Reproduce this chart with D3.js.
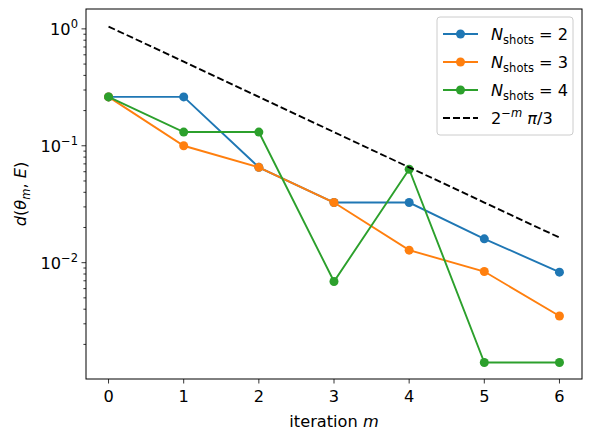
<!DOCTYPE html>
<meta charset="utf-8">
<script src="https://d3js.org/d3.v7.min.js"></script>
<style>
  body { margin: 0; background: #fff; }
  text { font-family: "DejaVu Sans", sans-serif; fill: #000; }
</style>
<svg id="chart" width="591" height="440"></svg>
<script>
// data
var iterations = [0, 1, 2, 3, 4, 5, 6];
var shots2 = [0.262, 0.262, 0.0654, 0.0327, 0.0327, 0.0160, 0.0083];
var shots3 = [0.262, 0.100, 0.0654, 0.0327, 0.0128, 0.0084, 0.0035];
var shots4 = [0.262, 0.131, 0.131, 0.0069, 0.0630, 0.0014, 0.0014];
var bound = [1.047, 0.524, 0.262, 0.131, 0.0654, 0.0327, 0.0164];
var yTickLabels = ["0", "\u22121", "\u22122"];

var svg = d3.select("#chart");
var mLeft = 86, mRight = 582, mTop = 9, mBottom = 379;
var fs = "16.2px", fsSmall = "11.5px";

var x = d3.scaleLinear().domain([-0.3, 6.3]).range([mLeft, mRight]);
var y = d3.scaleLog().domain([Math.pow(10, -2.995), Math.pow(10, 0.17)]).range([mBottom, mTop]);

// minor ticks
var minor = [];
[-3, -2, -1, 0].forEach(function(e) {
  for (var k = 2; k <= 9; k++) {
    var v = k * Math.pow(10, e);
    if (v > y.domain()[0] && v < y.domain()[1]) minor.push(v);
  }
});
svg.append("g").selectAll("line").data(minor).enter().append("line")
  .attr("x1", mLeft - 2.6).attr("x2", mLeft)
  .attr("y1", function(d) { return y(d); }).attr("y2", function(d) { return y(d); })
  .attr("stroke", "#000").attr("stroke-width", 0.8);

// major y ticks
var majors = [1, 0.1, 0.01];
var gy = svg.append("g");
majors.forEach(function(v, i) {
  gy.append("line").attr("x1", mLeft - 4.5).attr("x2", mLeft)
    .attr("y1", y(v)).attr("y2", y(v)).attr("stroke", "#000").attr("stroke-width", 0.8);
  var t = gy.append("text").attr("x", mLeft - 8).attr("y", y(v) + 6)
    .attr("text-anchor", "end").style("font-size", fs);
  t.append("tspan").text("10");
  t.append("tspan").attr("dy", -7).style("font-size", fsSmall).text(yTickLabels[i]);
});

// x ticks
var gx = svg.append("g");
iterations.forEach(function(v) {
  gx.append("line").attr("x1", x(v)).attr("x2", x(v))
    .attr("y1", mBottom).attr("y2", mBottom + 4.5).attr("stroke", "#000").attr("stroke-width", 0.8);
  gx.append("text").attr("x", x(v)).attr("y", mBottom + 23)
    .attr("text-anchor", "middle").style("font-size", fs).text(v);
});

// series
var series = [
  { vals: shots2, color: "#1f77b4" },
  { vals: shots3, color: "#ff7f0e" },
  { vals: shots4, color: "#2ca02c" }
];
var line = d3.line().x(function(d, i) { return x(iterations[i]); }).y(function(d) { return y(d); });

series.forEach(function(s) {
  var g = svg.append("g");
  g.append("path").attr("d", line(s.vals)).attr("fill", "none")
    .attr("stroke", s.color).attr("stroke-width", 1.9);
  g.selectAll("circle").data(s.vals).enter().append("circle")
    .attr("cx", function(d, i) { return x(iterations[i]); })
    .attr("cy", function(d) { return y(d); })
    .attr("r", 4.5).attr("fill", s.color);
});

svg.append("path").attr("d", line(bound)).attr("fill", "none")
  .attr("stroke", "#000").attr("stroke-width", 1.9).attr("stroke-dasharray", "7,3");

// frame
svg.append("rect").attr("x", mLeft).attr("y", mTop)
  .attr("width", mRight - mLeft).attr("height", mBottom - mTop)
  .attr("fill", "none").attr("stroke", "#000").attr("stroke-width", 1);

// axis labels
var xl = svg.append("text").attr("x", (mLeft + mRight) / 2).attr("y", 427)
  .attr("text-anchor", "middle").style("font-size", fs);
xl.append("tspan").text("iteration ");
xl.append("tspan").style("font-style", "italic").text("m");

var yl = svg.append("text").attr("transform", "translate(26," + ((mTop + mBottom) / 2) + ") rotate(-90)")
  .attr("text-anchor", "middle").style("font-size", fs);
yl.append("tspan").style("font-style", "italic").text("d");
yl.append("tspan").text("(");
yl.append("tspan").style("font-style", "italic").text("\u03b8");
yl.append("tspan").attr("dy", 4).style("font-style", "italic").style("font-size", fsSmall).text("m");
yl.append("tspan").attr("dy", -4).text(", ");
yl.append("tspan").style("font-style", "italic").text("E");
yl.append("tspan").text(")");

// legend
var lg = svg.append("g");
lg.append("rect").attr("x", 437).attr("y", 17).attr("width", 136).attr("height", 118)
  .attr("rx", 3).attr("fill", "#fff").attr("fill-opacity", 0.8)
  .attr("stroke", "#ccc").attr("stroke-width", 1);
var legendNames = ["2", "3", "4"];
series.forEach(function(s, i) {
  var ry = 34 + i * 28;
  lg.append("line").attr("x1", 443).attr("x2", 478).attr("y1", ry).attr("y2", ry)
    .attr("stroke", s.color).attr("stroke-width", 1.9);
  lg.append("circle").attr("cx", 460.5).attr("cy", ry).attr("r", 4.5).attr("fill", s.color);
  var t = lg.append("text").attr("x", 491).attr("y", ry + 6).style("font-size", fs);
  t.append("tspan").style("font-style", "italic").text("N");
  t.append("tspan").attr("dy", 4).style("font-size", fsSmall).text("shots");
  t.append("tspan").attr("dy", -4).text(" = " + legendNames[i]);
});
var by = 34 + 3 * 28;
lg.append("line").attr("x1", 443).attr("x2", 478).attr("y1", by).attr("y2", by)
  .attr("stroke", "#000").attr("stroke-width", 1.9).attr("stroke-dasharray", "7,3");
var bt = lg.append("text").attr("x", 491).attr("y", by + 6).style("font-size", fs);
bt.append("tspan").text("2");
bt.append("tspan").attr("dy", -7).style("font-size", fsSmall).text("\u2212");
bt.append("tspan").style("font-size", fsSmall).style("font-style", "italic").text("m");
bt.append("tspan").attr("dy", 7).text(" ");
bt.append("tspan").style("font-style", "italic").text("\u03c0");
bt.append("tspan").text("/3");
</script>
